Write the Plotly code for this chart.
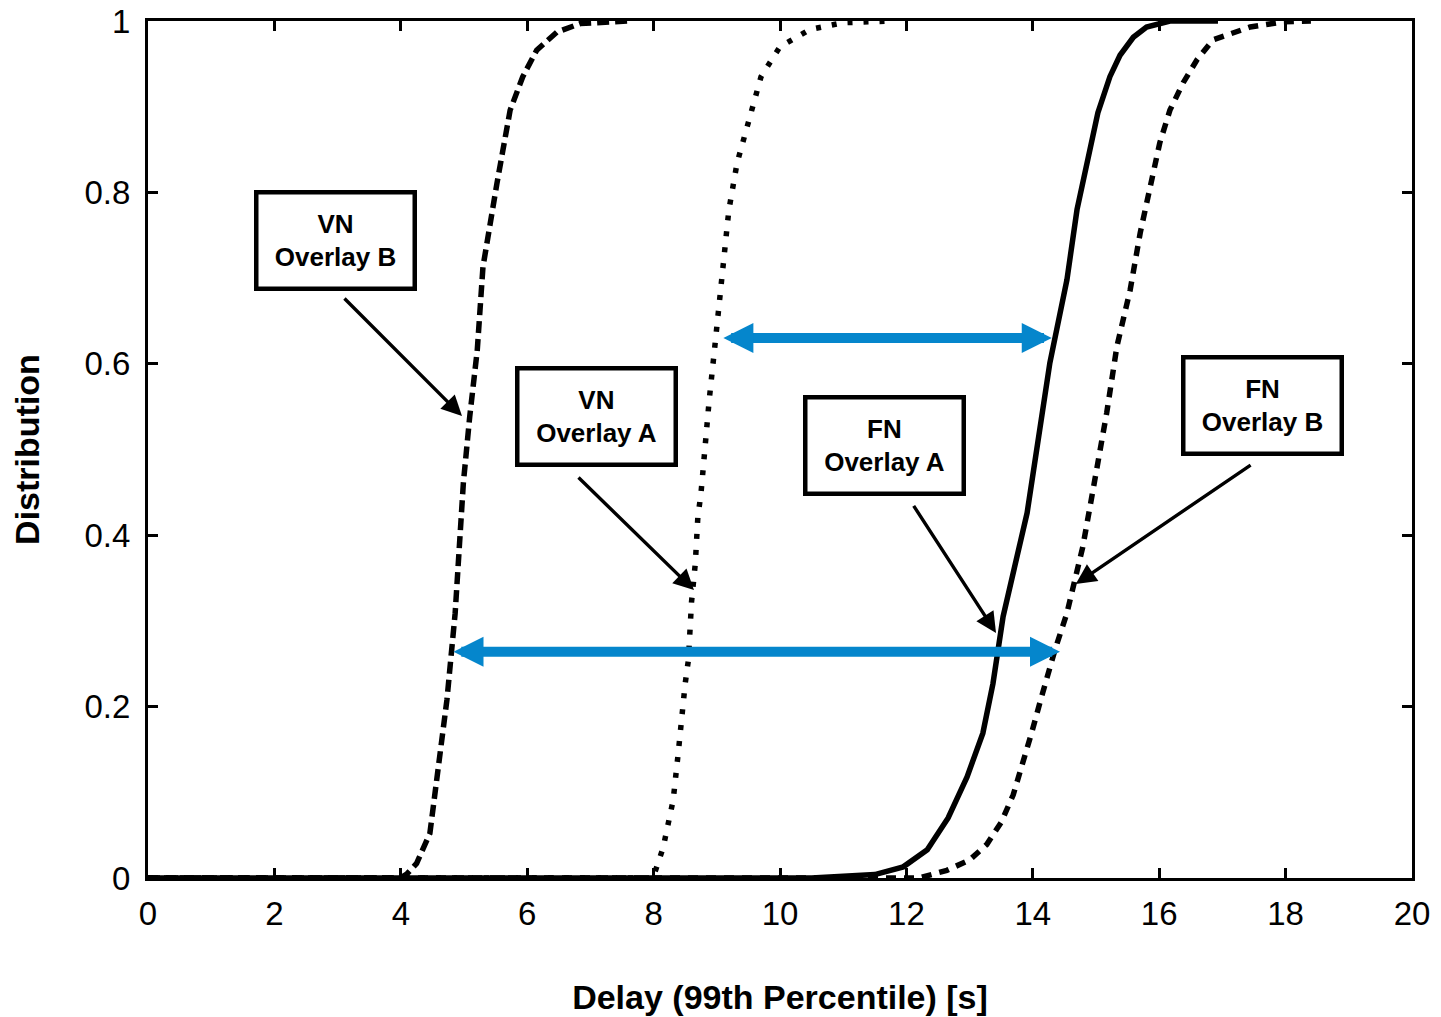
import plotly.graph_objects as go

# ---- data ----
vnb_x = [0, 3.99, 4.10, 4.25, 4.46, 4.59, 4.73, 4.86, 4.99, 5.09, 5.21, 5.30, 5.40, 5.52, 5.73, 5.93, 6.15, 6.47, 6.84, 7.58]
vnb_y = [0, 0, 0.005, 0.017, 0.052, 0.130, 0.208, 0.309, 0.461, 0.538, 0.616, 0.713, 0.760, 0.810, 0.896, 0.935, 0.966, 0.987, 0.997, 1.0]

vna_x = [0, 7.99, 8.15, 8.31, 8.39, 8.45, 8.50, 8.55, 8.60, 8.66, 8.70, 8.75, 8.81, 8.88, 8.96, 9.03, 9.11, 9.19, 9.32, 9.53, 9.70, 10.0, 10.47, 11.0, 11.8]
vna_y = [0, 0, 0.035, 0.091, 0.146, 0.200, 0.227, 0.254, 0.322, 0.367, 0.421, 0.449, 0.503, 0.558, 0.614, 0.669, 0.725, 0.779, 0.834, 0.888, 0.935, 0.970, 0.990, 0.998, 1.0]

fna_x = [0, 10.5, 11.5, 11.95, 12.33, 12.66, 12.96, 13.21, 13.37, 13.53, 13.91, 14.11, 14.27, 14.54, 14.70, 15.03, 15.22, 15.38, 15.59, 15.80, 16.17, 16.93]
fna_y = [0, 0, 0.004, 0.013, 0.033, 0.070, 0.118, 0.169, 0.227, 0.305, 0.426, 0.523, 0.601, 0.698, 0.780, 0.893, 0.935, 0.960, 0.981, 0.993, 1.0, 1.0]

fnb_x = [0, 12.2, 12.64, 13.0, 13.27, 13.50, 13.69, 13.85, 13.98, 14.11, 14.22, 14.35, 14.54, 14.79, 14.98, 15.17, 15.33, 15.54, 15.70, 15.85, 16.01, 16.17, 16.38, 16.60, 16.85, 17.44, 17.96, 18.4]
fnb_y = [0, 0, 0.009, 0.021, 0.039, 0.065, 0.097, 0.134, 0.169, 0.204, 0.235, 0.266, 0.309, 0.386, 0.464, 0.543, 0.620, 0.686, 0.753, 0.806, 0.858, 0.896, 0.928, 0.955, 0.978, 0.993, 0.999, 1.0]

x_ticks = [0, 2, 4, 6, 8, 10, 12, 14, 16, 18, 20]
y_ticks = [0, 0.2, 0.4, 0.6, 0.8, 1]
y_tick_labels = ["0", "0.2", "0.4", "0.6", "0.8", "1"]

labels = ["VN<br>Overlay B", "VN<br>Overlay A", "FN<br>Overlay A", "FN<br>Overlay B"]

FONT = "Liberation Sans, Arial, sans-serif"
BLUE = "#0586CC"
LW = 5.5

fig = go.Figure()
fig.add_trace(go.Scatter(x=vnb_x, y=vnb_y, mode="lines", line=dict(color="black", width=LW, dash="12px,6px")))
fig.add_trace(go.Scatter(x=vna_x, y=vna_y, mode="lines", line=dict(color="black", width=LW, dash="5px,11px")))
fig.add_trace(go.Scatter(x=fna_x, y=fna_y, mode="lines", line=dict(color="black", width=LW)))
fig.add_trace(go.Scatter(x=fnb_x, y=fnb_y, mode="lines", line=dict(color="black", width=LW, dash="10px,8px")))

anns = []
# label boxes
box_pos = [(2.959, 0.744), (7.089, 0.538), (11.646, 0.505), (17.627, 0.551)]
for (bx, by), txt in zip(box_pos, labels):
    anns.append(dict(x=bx, y=by, xref="x", yref="y", text="<b>" + txt + "</b>", showarrow=False,
                     font=dict(family=FONT, size=26, color="black"), bgcolor="white",
                     bordercolor="black", borderwidth=4.5, borderpad=2, width=150, height=88,
                     align="center", valign="middle"))
# black pointer arrows: (head x, head y, tail x, tail y)
pointers = [(4.968, 0.539, 3.085, 0.678), (8.639, 0.336, 6.788, 0.469),
            (13.418, 0.286, 12.10, 0.436), (14.68, 0.343, 17.47, 0.483)]
for hx, hy, tx, ty in pointers:
    anns.append(dict(x=hx, y=hy, ax=tx, ay=ty, xref="x", yref="y", axref="x", ayref="y",
                     text="", showarrow=True, arrowhead=2, arrowsize=1.2, arrowwidth=3.4,
                     arrowcolor="black"))
# blue double arrows
for x0, x1, yy in [(9.08, 14.30, 0.630), (4.81, 14.43, 0.264)]:
    anns.append(dict(x=x1, y=yy, ax=x0, ay=yy, xref="x", yref="y", axref="x", ayref="y",
                     text="", showarrow=True, arrowhead=2, startarrowhead=2, arrowside="end+start",
                     arrowsize=0.6, startarrowsize=0.6, arrowwidth=10, arrowcolor=BLUE))

fig.update_layout(
    width=1441, height=1017,
    margin=dict(l=148, r=29, t=21, b=139, autoexpand=False),
    paper_bgcolor="white", plot_bgcolor="white",
    showlegend=False,
    font=dict(family=FONT, color="black"),
    annotations=anns,
)
fig.update_xaxes(range=[0, 20], tickvals=x_ticks, ticktext=[str(v) for v in x_ticks], automargin=False,
                 showgrid=False, zeroline=False, showline=True, linecolor="black", linewidth=3,
                 mirror="ticks", ticks="inside", ticklen=10, tickwidth=3, tickcolor="black",
                 tickfont=dict(family=FONT, size=33, color="black"), ticklabelstandoff=4,
                 ticklabeloverflow="allow",
                 title=dict(text="<b>Delay (99th Percentile) [s]</b>", font=dict(family=FONT, size=34, color="black"), standoff=55))
fig.update_yaxes(range=[0, 1], tickvals=y_ticks, ticktext=y_tick_labels, automargin=False,
                 showgrid=False, zeroline=False, showline=True, linecolor="black", linewidth=3,
                 mirror="ticks", ticks="inside", ticklen=10, tickwidth=3, tickcolor="black",
                 tickfont=dict(family=FONT, size=33, color="black"), ticklabelstandoff=8,
                 ticklabeloverflow="allow",
                 title=dict(text="<b>Distribution</b>", font=dict(family=FONT, size=34, color="black"), standoff=35))

fig.write_html("out.html", config={"displayModeBar": False},
               post_script="document.body.style.margin='0';")
